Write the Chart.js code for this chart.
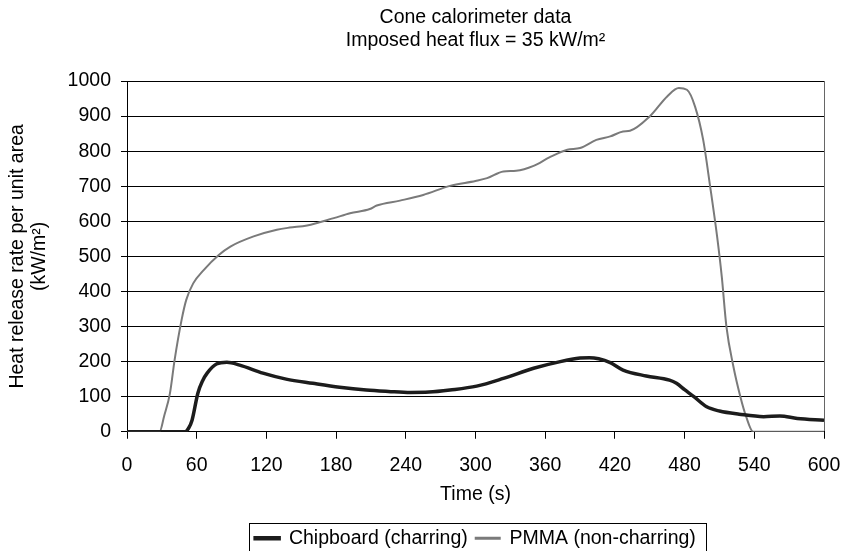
<!DOCTYPE html>
<html>
<head>
<meta charset="utf-8">
<script src="https://cdn.jsdelivr.net/npm/chart.js@4"></script>
<style>
  body { margin: 0; background: #fff; }
  canvas { display: block; }
</style>
</head>
<body>
<canvas id="hrrChart" width="849" height="551"></canvas>
<script>
// values
const chipTime = [0, 50, 53, 56, 61, 65, 69, 77, 86, 97, 117, 137, 160, 183, 206, 225, 244, 260, 278, 301, 324, 350, 373, 390, 398, 406, 416, 427, 447, 467, 473, 480, 488, 499, 510, 527, 548, 562, 577, 600];
const chipHrr = [0, 0, 10, 33, 110, 145, 167, 193, 198, 190, 167, 150, 138, 127, 119, 115, 112, 113, 119, 130, 152, 181, 200, 210, 211, 208, 197, 176, 159, 147, 138, 120, 100, 71, 59, 50, 43, 45, 38, 33];

const pmmaTime = [0, 28, 32, 37, 41, 47, 51, 57, 66, 79, 89, 109, 129, 140, 155, 178, 192, 209, 215, 235, 255, 278, 300, 310, 324, 335, 350, 364, 379, 390, 404, 416, 427, 433, 450, 465, 475, 482, 489, 496, 502, 508, 512, 516, 522, 528, 533, 539, 600];
const pmmaHrr = [0, 0, 45, 110, 205, 319, 376, 423, 461, 504, 528, 557, 576, 582, 588, 609, 623, 635, 645, 659, 675, 701, 715, 723, 742, 744, 758, 783, 804, 809, 832, 842, 856, 858, 899, 956, 980, 975, 927, 832, 699, 556, 442, 300, 186, 100, 43, 0, 0];

const xTicks = [0, 60, 120, 180, 240, 300, 360, 420, 480, 540, 600];
const yTicks = [0, 100, 200, 300, 400, 500, 600, 700, 800, 900, 1000];

const titleLines = ['Cone calorimeter data', 'Imposed heat flux = 35 kW/m²'];
const yTitle = ['Heat release rate per unit area', '(kW/m²)'];

const toPoints = (xs, ys) => xs.map((x, i) => ({ x: x, y: ys[i] }));

Chart.defaults.font.family = "'Liberation Sans', Arial, sans-serif";
Chart.defaults.font.size = 19.5;
Chart.defaults.color = '#000';

// centre title + legend over the plot area and box the legend
const boxShift = {
  id: 'boxShift',
  afterLayout(chart) {
    const mid = (chart.chartArea.left + chart.chartArea.right) / 2;
    [chart.titleBlock, chart.legend].forEach(b => {
      if (!b) return;
      const dx = mid - (b.left + b.right) / 2;
      b.left += dx;
      b.right += dx;
    });
  },
  afterDraw(chart) {
    const hb = chart.legend && chart.legend.legendHitBoxes;
    if (!hb || !hb.length) return;
    const first = hb[0], last = hb[hb.length - 1];
    const cy = first.top + first.height / 2;
    const x1 = Math.round(first.left - 6) + 0.5;
    const x2 = Math.round(last.left + last.width + 10) + 0.5;
    const y1 = Math.round(cy - 15) + 0.5;
    const ctx = chart.ctx;
    ctx.save();
    ctx.strokeStyle = '#000';
    ctx.lineWidth = 1;
    ctx.strokeRect(x1, y1, x2 - x1, 34);
    ctx.restore();
  }
};

new Chart(document.getElementById('hrrChart'), {
  type: 'line',
  data: {
    datasets: [{
      label: 'Chipboard (charring)',
      data: toPoints(chipTime, chipHrr),
      borderColor: '#1c1c1c',
      backgroundColor: '#1c1c1c',
      borderWidth: 3.5,
      pointRadius: 0,
      cubicInterpolationMode: 'monotone'
    }, {
      label: 'PMMA (non-charring)',
      data: toPoints(pmmaTime, pmmaHrr),
      borderColor: '#7a7a7a',
      backgroundColor: '#7a7a7a',
      borderWidth: 2,
      pointRadius: 0,
      cubicInterpolationMode: 'monotone'
    }]
  },
  options: {
    responsive: false,
    animation: false,
    layout: { padding: { top: 0, left: 0, right: 25, bottom: -7 } },
    plugins: {
      title: {
        display: true,
        text: titleLines,
        font: { size: 19.5, weight: 'normal', lineHeight: 1.2 },
        padding: { top: 6, bottom: 28.2 }
      },
      legend: {
        position: 'bottom',
        labels: {
          boxWidth: 24,
          boxHeight: 1,
          padding: 8
        }
      },
      tooltip: { enabled: false }
    },
    scales: {
      x: {
        type: 'linear',
        min: 0,
        max: 600,
        afterBuildTicks: s => { s.ticks = xTicks.map(v => ({ value: v })); },
        afterFit: s => { s.height = 88.75; s.paddingLeft = 0; s.paddingRight = 0; },
        ticks: { maxRotation: 0, padding: 15 },
        grid: {
          color: c => (c.tick && c.tick.value === 600 ? '#666' : 'rgba(0,0,0,0)'),
          tickColor: '#000',
          tickLength: 7
        },
        border: { color: '#000', width: 1 },
        title: {
          display: true,
          text: 'Time (s)',
          padding: { top: 0, bottom: 14 }
        }
      },
      y: {
        min: 0,
        max: 1000,
        afterBuildTicks: s => { s.ticks = yTicks.map(v => ({ value: v })); },
        afterFit: s => { s.width = 127; },
        ticks: { padding: 10, callback: v => String(v) },
        grid: { color: '#000', tickColor: '#000', tickLength: 6 },
        border: { color: '#000', width: 1 },
        title: {
          display: true,
          text: yTitle,
          font: { lineHeight: 1.15 },
          padding: { top: 6, bottom: 0 }
        }
      }
    }
  },
  plugins: [boxShift]
});
</script>
</body>
</html>
